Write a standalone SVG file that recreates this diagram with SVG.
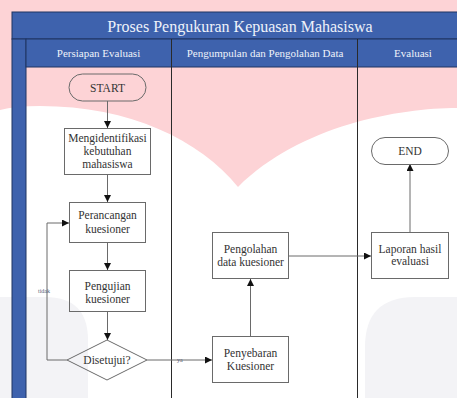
<svg xmlns="http://www.w3.org/2000/svg" width="457" height="398" viewBox="0 0 457 398" font-family="Liberation Serif, Tinos, Noto Serif, DejaVu Serif, Times New Roman, serif">
<style>
.lbl{fill:#333;font-size:11.5px;text-anchor:middle}
.hdr{fill:#eef2fa;text-anchor:middle}
.box{fill:none;stroke:#6a6a6a;stroke-width:1}
.lane{stroke:#2a2a2a;stroke-width:1}
.con{fill:none;stroke:#6a6a6a;stroke-width:1}
.tiny{font-size:6px;fill:#55607a}
</style>
<defs>
<marker id="arr" viewBox="0 0 10 10" refX="10" refY="5" markerWidth="7" markerHeight="7" orient="auto" markerUnits="userSpaceOnUse">
<path d="M0,0 L10,5 L0,10 z" fill="#111"/>
</marker>
</defs>
<rect width="457" height="398" fill="#fff"/>
<g id="watermark">
<path d="M0,0 H457 V108 C400,108 300,125 238,187 C200,140 130,106 40,106 Q15,106 0,110 Z" fill="#fdd3d6"/>
<path d="M365,398 V347 Q365,297 415,297 H457 V398 Z" fill="#f3f3f6"/>
<path d="M0,297 H45 Q88,297 88,340 V398 H0 Z" fill="#f3f3f6"/>
</g>
<g id="pool">
<rect x="12" y="12" width="450" height="27" fill="#3e62ad" stroke="#1f3563" stroke-width="1"/>
<text class="hdr" x="240" y="32" font-size="16">Proses Pengukuran Kepuasan Mahasiswa</text>
<rect x="12" y="39" width="14" height="365" fill="#3e62ad" stroke="#1f3563" stroke-width="1"/>
<rect x="26" y="39" width="436" height="28" fill="#3e62ad" stroke="#1f3563" stroke-width="1"/>
<line class="lane" x1="171.5" y1="39" x2="171.5" y2="398"/>
<line class="lane" x1="357.5" y1="39" x2="357.5" y2="398"/>
<text class="hdr" x="98.5" y="57" font-size="11">Persiapan Evaluasi</text>
<text class="hdr" x="265" y="57" font-size="11">Pengumpulan dan Pengolahan Data</text>
<text class="hdr" x="413" y="57" font-size="11">Evaluasi</text>
</g>
<g id="connectors">
<line class="con" x1="107.5" y1="101" x2="107.5" y2="128" marker-end="url(#arr)"/>
<line class="con" x1="107.5" y1="175" x2="107.5" y2="202" marker-end="url(#arr)"/>
<line class="con" x1="107.5" y1="243" x2="107.5" y2="270" marker-end="url(#arr)"/>
<line class="con" x1="107.5" y1="312" x2="107.5" y2="340" marker-end="url(#arr)"/>
<polyline class="con" points="67,360 47,360 47,223 69,223" marker-end="url(#arr)"/>
<line class="con" x1="147" y1="360" x2="212" y2="360" marker-end="url(#arr)"/>
<line class="con" x1="250.5" y1="336" x2="250.5" y2="279" marker-end="url(#arr)"/>
<line class="con" x1="289" y1="256" x2="371" y2="256" marker-end="url(#arr)"/>
<line class="con" x1="410" y1="232" x2="410" y2="164" marker-end="url(#arr)"/>
<text class="tiny" x="38" y="293">tidak</text>
<text class="tiny" x="177" y="362">ya</text>
</g>
<g id="start">
<rect class="box" x="69" y="74" width="77" height="27" rx="13.5"/>
<text class="lbl" x="107.5" y="92" font-size="12">START</text>
</g>
<g id="identifikasi">
<rect class="box" x="64.5" y="128.5" width="86" height="46"/>
<text class="lbl" x="107.5" y="142">Mengidentifikasi</text>
<text class="lbl" x="107.5" y="155">kebutuhan</text>
<text class="lbl" x="107.5" y="168">mahasiswa</text>
</g>
<g id="perancangan">
<rect class="box" x="69.5" y="202.5" width="76" height="40"/>
<text class="lbl" x="107.5" y="219">Perancangan</text>
<text class="lbl" x="107.5" y="233">kuesioner</text>
</g>
<g id="pengujian">
<rect class="box" x="69.5" y="270.5" width="76" height="41"/>
<text class="lbl" x="107.5" y="290">Pengujian</text>
<text class="lbl" x="107.5" y="303">kuesioner</text>
</g>
<g id="disetujui">
<polygon class="box" points="107,340 147,360 107,380 67,360"/>
<text class="lbl" x="107" y="364">Disetujui?</text>
</g>
<g id="penyebaran">
<rect class="box" x="212.5" y="336.5" width="76" height="46"/>
<text class="lbl" x="250.5" y="357">Penyebaran</text>
<text class="lbl" x="250.5" y="370">Kuesioner</text>
</g>
<g id="pengolahan">
<rect class="box" x="212.5" y="232.5" width="76" height="46"/>
<text class="lbl" x="250.5" y="253">Pengolahan</text>
<text class="lbl" x="250.5" y="266">data kuesioner</text>
</g>
<g id="laporan">
<rect class="box" x="371.5" y="232.5" width="77" height="46"/>
<text class="lbl" x="410" y="253">Laporan hasil</text>
<text class="lbl" x="410" y="265">evaluasi</text>
</g>
<g id="end">
<rect class="box" x="371.5" y="137.5" width="77" height="27" rx="13.5"/>
<text class="lbl" x="410" y="155" font-size="12">END</text>
</g>
</svg>
